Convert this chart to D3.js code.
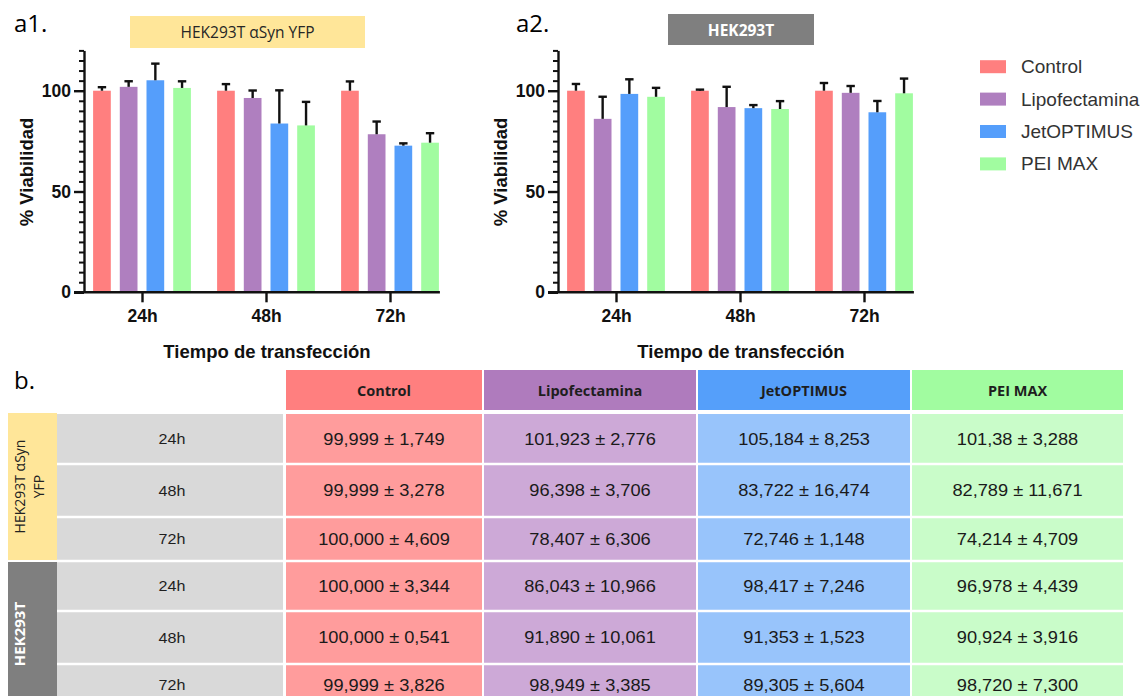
<!DOCTYPE html>
<html><head><meta charset="utf-8">
<script src="https://cdn.jsdelivr.net/npm/d3@7"></script>
<style>
html,body{margin:0;padding:0;background:#fff;}
svg{display:block;}
</style></head>
<body>
<svg id="fig" width="1146" height="696"></svg>
<script>
// ---------------- DATA ----------------
const groups = ["24h", "48h", "72h"];
const series = ["Control", "Lipofectamina", "JetOPTIMUS", "PEI MAX"];
const cellLines = ["HEK293T αSyn YFP", "HEK293T"];
const yTicks = [0, 50, 100];

// means (as printed in the table) for each time point, per series
const a1Mean = [["99,999", "101,923", "105,184", "101,38"],
                ["99,999", "96,398", "83,722", "82,789"],
                ["100,000", "78,407", "72,746", "74,214"]];
const a1SD   = [["1,749", "2,776", "8,253", "3,288"],
                ["3,278", "3,706", "16,474", "11,671"],
                ["4,609", "6,306", "1,148", "4,709"]];
const a2Mean = [["100,000", "86,043", "98,417", "96,978"],
                ["100,000", "91,890", "91,353", "90,924"],
                ["99,999", "98,949", "89,305", "98,720"]];
const a2SD   = [["3,344", "10,966", "7,246", "4,439"],
                ["0,541", "10,061", "1,523", "3,916"],
                ["3,826", "3,385", "5,604", "7,300"]];

// ---------------- STYLE ----------------
const barColors    = ["#FF7F7F", "#AF7FBF", "#559EFB", "#A1FCA0"];
const headerColors = ["#FF7F7F", "#AF7BBD", "#559FFA", "#A1FCA0"];
const cellColors   = ["#FF9C9C", "#CDA9D7", "#98C4FB", "#C9FCC9"];
const num = s => +s.replace(",", ".");

const svg = d3.select("#fig");
const CHART_FONT = "'Liberation Sans', Arial, sans-serif";
const UI_FONT = "'Open Sans', 'Noto Sans', sans-serif";

const y = d3.scaleLinear().domain([0, 120]).range([292.3, 50.4]);

function drawChart(axX, means, sds, panelLabel, labelX, hdr) {
  const g = svg.append("g");
  const x0 = d3.scaleBand().domain(groups).range([axX - 4, axX + 368]).padding(0);
  const x1 = d3.scaleBand().domain(series).range([-53.4, 53.4]).paddingInner(0.337).paddingOuter(0.1685);
  const cx = k => x0(k) + x0.bandwidth() / 2;

  // bars
  groups.forEach((grp, gi) => {
    series.forEach((s, si) => {
      const m = num(means[gi][si]), sd = num(sds[gi][si]);
      const bx = cx(grp) + x1(s);
      g.append("rect").attr("x", bx).attr("y", y(m))
        .attr("width", x1.bandwidth()).attr("height", y(0) - y(m))
        .attr("fill", barColors[si]);
      const mx = bx + x1.bandwidth() / 2;
      g.append("line").attr("x1", mx).attr("x2", mx).attr("y1", y(m)).attr("y2", y(m + sd))
        .attr("stroke", "#111").attr("stroke-width", 2.4);
      g.append("line").attr("x1", mx - 4.2).attr("x2", mx + 4.2).attr("y1", y(m + sd)).attr("y2", y(m + sd))
        .attr("stroke", "#111").attr("stroke-width", 2.4);
    });
  });

  // y axis minor ticks
  const minor = d3.range(0, 121, 5).filter(v => !yTicks.includes(v));
  g.append("g").attr("transform", `translate(${axX},0)`)
    .call(d3.axisLeft(y).tickValues(minor).tickSize(5).tickFormat(""))
    .call(a => a.select(".domain").remove())
    .selectAll("line").attr("stroke", "#111").attr("stroke-width", 2);
  // y axis major
  const ya = g.append("g").attr("transform", `translate(${axX},0)`)
    .call(d3.axisLeft(y).tickValues(yTicks).tickSize(10).tickSizeOuter(0).tickPadding(3));
  ya.select(".domain").attr("stroke", "#111").attr("stroke-width", 2.4);
  ya.selectAll(".tick line").attr("stroke", "#111").attr("stroke-width", 2.4);
  ya.selectAll("text").attr("font-family", CHART_FONT).attr("font-weight", "bold")
    .attr("font-size", 17.5).attr("fill", "#111");

  // x axis
  const lastEnd = cx(groups[groups.length - 1]) + x1(series[series.length - 1]) + x1.bandwidth() + 1;
  const xa = g.append("g").attr("transform", `translate(0,${y(0)})`)
    .call(d3.axisBottom(d3.scalePoint().domain(groups).range([cx(groups[0]), cx(groups[2])]))
      .tickSize(10).tickSizeOuter(0).tickPadding(7));
  xa.select(".domain").remove();
  xa.selectAll(".tick line").attr("stroke", "#111").attr("stroke-width", 2.4);
  xa.selectAll("text").attr("font-family", CHART_FONT).attr("font-weight", "bold")
    .attr("font-size", 17.5).attr("fill", "#111");
  g.append("line").attr("x1", axX - 10).attr("x2", lastEnd).attr("y1", y(0)).attr("y2", y(0))
    .attr("stroke", "#111").attr("stroke-width", 2.4);

  // titles
  g.append("text").attr("transform", `translate(${axX - 51},172) rotate(-90)`)
    .attr("text-anchor", "middle").attr("font-family", CHART_FONT).attr("font-weight", "bold")
    .attr("font-size", 18.5).attr("fill", "#111").text("% Viabilidad");
  g.append("text").attr("x", (cx(groups[0]) + cx(groups[2])) / 2 + 1).attr("y", 358)
    .attr("text-anchor", "middle").attr("font-family", CHART_FONT).attr("font-weight", "bold")
    .attr("font-size", 18.5).attr("fill", "#111").text("Tiempo de transfección");

  // panel label
  g.append("text").attr("x", labelX).attr("y", 32).attr("font-family", UI_FONT)
    .attr("font-size", 24).attr("fill", "#000").text(panelLabel);

  // header box
  g.append("rect").attr("x", hdr.x).attr("y", hdr.y).attr("width", hdr.w).attr("height", hdr.h)
    .attr("fill", hdr.fill);
  g.append("text").attr("x", hdr.x + hdr.w / 2).attr("y", hdr.y + hdr.h / 2)
    .attr("dominant-baseline", "central").attr("text-anchor", "middle")
    .attr("font-family", UI_FONT).attr("font-size", 15.5).attr("font-weight", hdr.bold ? "bold" : "normal")
    .attr("fill", hdr.color).text(hdr.text);
}

drawChart(84, a1Mean, a1SD, "a1.", 14, {x: 130, y: 16, w: 235, h: 32, fill: "#FFE699", color: "#262626", bold: false, text: cellLines[0]});
drawChart(558, a2Mean, a2SD, "a2.", 516, {x: 668, y: 14, w: 146, h: 31, fill: "#7F7F7F", color: "#fff", bold: true, text: cellLines[1]});

// legend
const leg = svg.append("g");
series.forEach((s, i) => {
  const cy = 66.7 + i * 32.4;
  leg.append("rect").attr("x", 980).attr("y", cy - 6.5).attr("width", 26).attr("height", 13).attr("fill", barColors[i]);
  leg.append("text").attr("x", 1021).attr("y", cy).attr("dominant-baseline", "central")
    .attr("font-family", CHART_FONT).attr("font-size", 19).attr("fill", "#333").text(s);
});

// ---------------- TABLE ----------------
const tb = svg.append("g");
tb.append("text").attr("x", 14).attr("y", 389).attr("font-family", UI_FONT).attr("font-size", 24)
  .attr("fill", "#000").text("b.");

const colEdges = [286, 484, 698, 912, 1125];   // series columns
const timeCol = [57, 283];
const rowEdges = [414, 464, 517, 561, 611, 664, 706];
const gap = 2.5;

// header row
series.forEach((s, i) => {
  tb.append("rect").attr("x", colEdges[i]).attr("y", 370).attr("width", colEdges[i + 1] - colEdges[i] - 2)
    .attr("height", 40).attr("fill", headerColors[i]);
  tb.append("text").attr("x", (colEdges[i] + colEdges[i + 1] - 2) / 2).attr("y", 390)
    .attr("dominant-baseline", "central").attr("text-anchor", "middle")
    .attr("font-family", UI_FONT).attr("font-weight", "bold").attr("font-size", 14.5)
    .attr("fill", "#1e1e1e").text(s);
});

// group label cells
const grpCells = [{y0: 413, y1: 560, fill: "#FFE699"}, {y0: 562, y1: 700, fill: "#7F7F7F"}];
grpCells.forEach((c, i) => tb.append("rect").attr("x", 8).attr("y", c.y0).attr("width", 49)
  .attr("height", c.y1 - c.y0).attr("fill", c.fill));
const gl1 = tb.append("text").attr("transform", "translate(32,486.5) rotate(-90)")
  .attr("text-anchor", "middle").attr("font-family", UI_FONT).attr("font-size", 14).attr("fill", "#222");
gl1.append("tspan").attr("x", 0).attr("y", -7).text("HEK293T αSyn");
gl1.append("tspan").attr("x", 0).attr("y", 12).text("YFP");
tb.append("text").attr("transform", "translate(25,634) rotate(-90)")
  .attr("text-anchor", "middle").attr("font-family", UI_FONT).attr("font-weight", "bold")
  .attr("font-size", 15).attr("fill", "#fff").text(cellLines[1]);

// body rows
const rows = [];
[a1Mean, a2Mean].forEach((M, li) => {
  const S = li === 0 ? a1SD : a2SD;
  groups.forEach((grp, gi) => rows.push({grp, vals: M[gi].map((m, si) => m + " ± " + S[gi][si])}));
});
rows.forEach((r, ri) => {
  const y0 = rowEdges[ri] + (ri === 0 ? 0 : gap / 2), y1 = rowEdges[ri + 1] - gap / 2;
  const cyv = (rowEdges[ri] + rowEdges[ri + 1]) / 2;
  tb.append("rect").attr("x", timeCol[0]).attr("y", y0).attr("width", timeCol[1] - timeCol[0])
    .attr("height", y1 - y0).attr("fill", "#D9D9D9");
  tb.append("text").attr("transform", `translate(${(timeCol[0] + timeCol[1]) / 2 + 2},${cyv}) scale(1.15,1)`)
    .attr("dominant-baseline", "central").attr("text-anchor", "middle")
    .attr("font-family", CHART_FONT).attr("font-size", 14).attr("fill", "#1e1e1e").text(r.grp);
  r.vals.forEach((v, si) => {
    tb.append("rect").attr("x", colEdges[si]).attr("y", y0).attr("width", colEdges[si + 1] - colEdges[si] - 2)
      .attr("height", y1 - y0).attr("fill", cellColors[si]);
    tb.append("text").attr("transform", `translate(${(colEdges[si] + colEdges[si + 1] - 2) / 2},${cyv}) scale(1.14,1)`)
      .attr("dominant-baseline", "central").attr("text-anchor", "middle")
      .attr("font-family", CHART_FONT).attr("font-size", 16).attr("fill", "#1a1a1a").text(v);
  });
});
</script>
</body></html>
